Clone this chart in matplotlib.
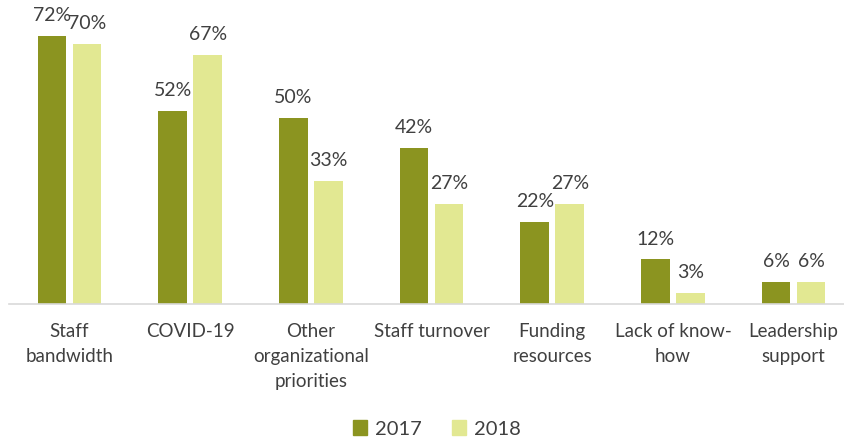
import matplotlib
matplotlib.use("Agg")
import matplotlib.pyplot as plt
import numpy as np
from matplotlib.patches import Patch

categories = ["Staff\nbandwidth", "COVID-19", "Other\norganizational\npriorities",
              "Staff turnover", "Funding\nresources", "Lack of know-\nhow",
              "Leadership\nsupport"]
values_2017 = [72, 52, 50, 42, 22, 12, 6]
values_2018 = [70, 67, 33, 27, 27, 3, 6]
series_names = ["2017", "2018"]

color_2017 = "#8B9420"
color_2018 = "#E2E892"
text_color = "#404040"

plt.rcParams["font.family"] = ["Lato", "DejaVu Sans"]

W, H = 845, 440
fig = plt.figure(figsize=(W / 100, H / 100), dpi=100)
# axes spans slightly past the right edge of the canvas
left, right = 9, 854
bottom, top = 304, 0
ax = fig.add_axes([left / W, 1 - bottom / H, (right - left) / W, (bottom - top) / H])

x = np.arange(len(categories))
width = 0.236
offset = 0.145
b1 = ax.bar(x - offset, values_2017, width, color=color_2017, label=series_names[0])
b2 = ax.bar(x + offset, values_2018, width, color=color_2018, label=series_names[1])

ax.set_xlim(-0.5, len(categories) - 0.5)
ax.set_ylim(0, 304 / 3.72)

for bars, vals in ((b1, values_2017), (b2, values_2018)):
    for rect, v in zip(bars, vals):
        ax.annotate(f"{v}%", (rect.get_x() + rect.get_width() / 2, v),
                    xytext=(0, 8.5), textcoords="offset points",
                    ha="center", va="bottom", fontsize=14, color=text_color)

for s in ("top", "right", "left"):
    ax.spines[s].set_visible(False)
ax.spines["bottom"].set_color("#D9D9D9")
ax.spines["bottom"].set_linewidth(1.2)
ax.set_yticks([])
ax.set_xticks(x)
ax.set_xticklabels(categories, fontsize=13.5, color=text_color, linespacing=1.55)
ax.tick_params(axis="x", length=0, pad=14)

handles = [Patch(color=color_2017), Patch(color=color_2018)]
fig.legend(handles, series_names, loc="center", bbox_to_anchor=(437 / W, 1 - 429 / H),
           ncol=2, frameon=False, fontsize=14.5, labelcolor=text_color,
           handlelength=0.7, handleheight=0.7, handletextpad=0.4, columnspacing=1.5)

fig.savefig("out.png", dpi=100)
